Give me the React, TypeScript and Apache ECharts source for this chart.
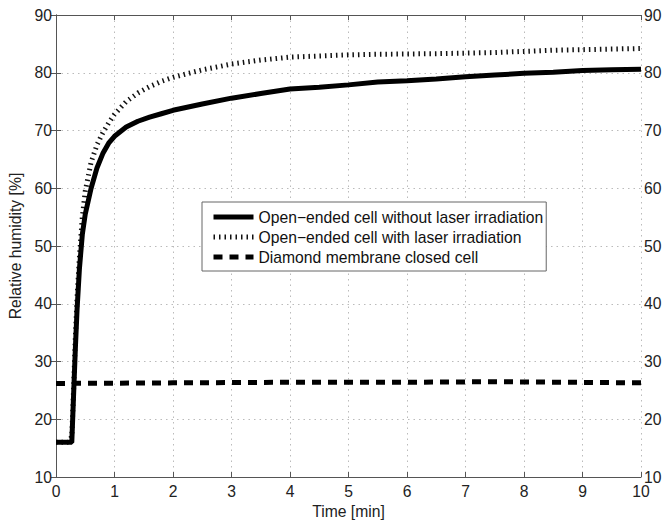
import React, { useEffect, useRef } from "react";
import * as echarts from "echarts";

const time = [0, 0.1, 0.2, 0.27, 0.3, 0.33, 0.36, 0.4, 0.45, 0.5, 0.6, 0.7, 0.8, 0.9, 1.0, 1.2, 1.4, 1.6, 1.8, 2.0, 2.5, 3, 3.5, 4, 4.5, 5, 5.5, 6, 6.5, 7, 7.5, 8, 8.5, 9, 9.5, 10];
const openNoLaser = [16, 16, 16, 16, 24, 32, 39, 46, 52, 55.5, 60, 63.5, 66, 67.8, 69, 70.6, 71.6, 72.3, 72.9, 73.5, 74.6, 75.6, 76.4, 77.2, 77.5, 77.9, 78.4, 78.6, 78.9, 79.3, 79.6, 79.9, 80.1, 80.4, 80.5, 80.6];
const openLaser = [16, 16, 16, 17, 25, 34, 41, 48, 55, 59.5, 64.5, 67.5, 69.6, 71.3, 72.8, 75, 76.5, 77.6, 78.5, 79.2, 80.5, 81.5, 82.2, 82.7, 82.9, 83.1, 83.2, 83.25, 83.3, 83.4, 83.5, 83.7, 83.9, 84.0, 84.1, 84.2];
const closedTime = [0, 2, 4, 6, 7.5, 10];
const closedCell = [26.2, 26.3, 26.4, 26.4, 26.5, 26.3];

const seriesNames = [
  "Open\u2212ended cell without laser irradiation",
  "Open\u2212ended cell with laser irradiation",
  "Diamond membrane closed cell",
];

const FONT = "Liberation Sans";
const FS = 15.7;

export default function App() {
  const ref = useRef<HTMLDivElement>(null);
  useEffect(() => {
    if (!ref.current) return;
    const chart = echarts.init(ref.current, null, { renderer: "svg" });
    const axisLine = { show: true, lineStyle: { color: "#555", width: 1 } };
    const label = { fontFamily: FONT, fontSize: FS, color: "#222" };
    const tick = { inside: true, length: 5, lineStyle: { color: "#555" } };
    const splitLine = { show: true, lineStyle: { color: "#bbb", type: [1.5, 4] as any, width: 1 } };
    chart.setOption({
      animation: false,
      backgroundColor: "#fff",
      grid: { left: 56, right: 21, top: 15, bottom: 43, show: false, containLabel: false, outerBoundsMode: "none" },
      legend: {
        orient: "vertical",
        left: 202,
        top: 202,
        itemWidth: 40,
        itemHeight: 16,
        itemGap: 4,
        padding: [7, 3, 6, 9],
        backgroundColor: "#fff",
        borderColor: "#666",
        borderWidth: 1,
        borderRadius: 0,
        itemStyle: { opacity: 0 },
        lineStyle: { width: 5 },
        textStyle: { fontFamily: FONT, fontSize: FS, color: "#111" },
        data: seriesNames,
      },
      xAxis: [
        {
          type: "value", min: 0, max: 10, interval: 1, position: "bottom",
          axisLine, axisTick: tick,
          axisLabel: { ...label, margin: 6 }, splitLine,
          name: "Time [min]", nameLocation: "middle", nameGap: 24,
          nameTextStyle: { fontFamily: FONT, fontSize: FS, color: "#222" },
        },
        {
          type: "value", min: 0, max: 10, interval: 1, position: "top",
          axisLine, axisTick: tick,
          axisLabel: { show: false }, splitLine: { show: false },
        },
      ],
      yAxis: [
        {
          type: "value", min: 10, max: 90, interval: 10, position: "left",
          axisLine, axisTick: tick,
          axisLabel: { ...label, margin: 4 }, splitLine,
          name: "Relative humidity [%]", nameLocation: "middle", nameGap: 31, nameRotate: 90,
          nameTextStyle: { fontFamily: FONT, fontSize: FS, color: "#222" },
        },
        {
          type: "value", min: 10, max: 90, interval: 10, position: "right",
          axisLine, axisTick: tick,
          axisLabel: { ...label, margin: 3 }, splitLine: { show: false },
        },
      ],
      series: [
        {
          name: seriesNames[2], type: "line", symbol: "none", z: 2,
          data: closedTime.map((t, i) => [t, closedCell[i]]),
          lineStyle: { color: "#000", width: 5, type: [9, 7] },
          itemStyle: { color: "#000" },
        },
        {
          name: seriesNames[1], type: "line", symbol: "none", z: 3,
          data: time.map((t, i) => [t, openLaser[i]]),
          lineStyle: { color: "#111", width: 5, type: [1.5, 4] },
          itemStyle: { color: "#111" },
        },
        {
          name: seriesNames[0], type: "line", symbol: "none", z: 4,
          data: time.map((t, i) => [t, openNoLaser[i]]),
          lineStyle: { color: "#000", width: 5, type: "solid" },
          itemStyle: { color: "#000" },
        },
      ],
    });
    return () => chart.dispose();
  }, []);
  return <div ref={ref} style={{ width: 662, height: 520, position: "absolute", left: 0, top: 0 }} />;
}
